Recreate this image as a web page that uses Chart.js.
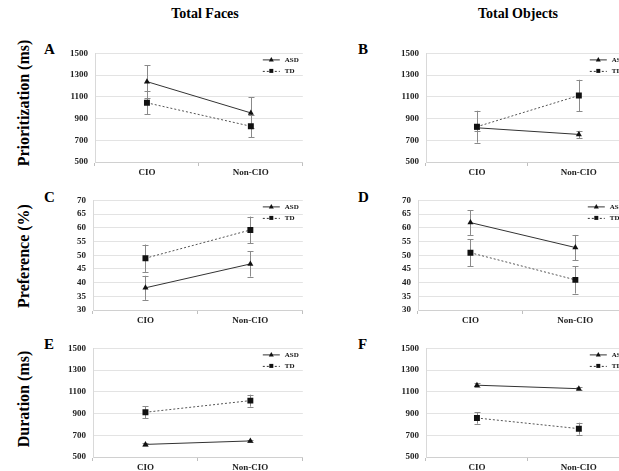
<!DOCTYPE html>
<html>
<head>
<meta charset="utf-8">
<script src="https://cdn.jsdelivr.net/npm/chart.js@4"></script>
<style>
  body { margin:0; background:#fff; }
  #page { position:relative; width:619px; height:471px; overflow:hidden; background:#fff; font-family:"Liberation Serif", "Times New Roman", serif; }
  canvas { position:absolute; }
  .title { position:absolute; top:6px; font-weight:bold; font-size:14px; transform:translateX(-50%); white-space:nowrap; }
  .letter { position:absolute; font-weight:bold; font-size:15px; }
  .ytitle { position:absolute; font-weight:bold; font-size:16px; white-space:nowrap; transform:translate(-50%,-50%) rotate(-90deg); }
</style>
</head>
<body>
<div id="page">
  <div class="title" style="left:205px">Total Faces</div>
  <div class="title" style="left:518px">Total Objects</div>

  <div class="letter" style="left:44px;top:41px">A</div>
  <div class="letter" style="left:358px;top:41px">B</div>
  <div class="letter" style="left:44px;top:189px">C</div>
  <div class="letter" style="left:358px;top:189px">D</div>
  <div class="letter" style="left:44px;top:336px">E</div>
  <div class="letter" style="left:358px;top:336px">F</div>

  <div class="ytitle" style="left:24px;top:103px">Prioritization (ms)</div>
  <div class="ytitle" style="left:24px;top:256px">Preference (%)</div>
  <div class="ytitle" style="left:24px;top:399px">Duration (ms)</div>

  <canvas id="cA" width="242" height="141" style="left:65px;top:41px"></canvas>
  <canvas id="cB" width="238" height="141" style="left:396px;top:41px"></canvas>
  <canvas id="cC" width="244" height="142" style="left:63px;top:188px"></canvas>
  <canvas id="cD" width="244" height="142" style="left:388px;top:188px"></canvas>
  <canvas id="cE" width="244" height="141" style="left:63px;top:336px"></canvas>
  <canvas id="cF" width="238" height="141" style="left:396px;top:336px"></canvas>
</div>

<script>
// ===============================
// DATA
// ===============================

const categories = ["CIO", "Non-CIO"];
const seriesNames = ["ASD", "TD"];

// Prioritization (ms)
const facesPriorAsd = [1240, 952];
const facesPriorAsdErr = [150, 142];
const facesPriorTd = [1045, 829];
const facesPriorTdErr = [105, 100];

const objectsPriorAsd = [815, 754];
const objectsPriorAsdErr = [30, 33];
const objectsPriorTd = [825, 1112];
const objectsPriorTdErr = [147, 145];

// Preference (%)
const facesPrefAsd = [38.1, 46.8];
const facesPrefAsdErr = [4.4, 4.6];
const facesPrefTd = [48.9, 59.2];
const facesPrefTdErr = [5.0, 4.9];

const objectsPrefAsd = [61.9, 52.8];
const objectsPrefAsdErr = [4.5, 4.6];
const objectsPrefTd = [50.9, 41.0];
const objectsPrefTdErr = [5.0, 5.0];

// Duration (ms)
const facesDurAsd = [616, 648];
const facesDurAsdErr = [12, 10];
const facesDurTd = [912, 1019];
const facesDurTdErr = [55, 55];

const objectsDurAsd = [1161, 1129];
const objectsDurAsdErr = [20, 15];
const objectsDurTd = [859, 761];
const objectsDurTdErr = [52, 55];

// axis ranges
const msTicks = [500, 700, 900, 1100, 1300, 1500];
const pctTicks = [30, 35, 40, 45, 50, 55, 60, 65, 70];

const serif = "'Liberation Serif', 'Times New Roman', serif";

// ===============================
// PLUGINS
// ===============================

const errorBars = {
  id: "errorBars",
  beforeDatasetsDraw(chart){
    const ctx = chart.ctx;
    const y = chart.scales.y;
    ctx.save();
    ctx.strokeStyle = "#8a8a8a";
    ctx.lineWidth = 1;
    chart.data.datasets.forEach((ds, i) => {
      const meta = chart.getDatasetMeta(i);
      meta.data.forEach((pt, j) => {
        const e = ds.errors[j];
        const top = y.getPixelForValue(ds.data[j] + e);
        const bot = y.getPixelForValue(ds.data[j] - e);
        const x = Math.round(pt.x) + 0.5;
        ctx.beginPath();
        ctx.moveTo(x, top); ctx.lineTo(x, bot);
        ctx.moveTo(x - 3, Math.round(top) + 0.5); ctx.lineTo(x + 3, Math.round(top) + 0.5);
        ctx.moveTo(x - 3, Math.round(bot) + 0.5); ctx.lineTo(x + 3, Math.round(bot) + 0.5);
        ctx.stroke();
      });
    });
    ctx.restore();
  }
};

const miniLegend = {
  id: "miniLegend",
  afterDraw(chart){
    const ctx = chart.ctx;
    const a = chart.chartArea;
    ctx.save();
    chart.data.datasets.forEach((ds, i) => {
      const yy = a.top + 6 + i * 11.5;
      const x0 = a.right - 40, x1 = a.right - 23;
      ctx.strokeStyle = "#333";
      ctx.lineWidth = 1;
      ctx.setLineDash(ds.borderDash || []);
      ctx.beginPath();
      ctx.moveTo(x0, yy + 0.5); ctx.lineTo(x1, yy + 0.5);
      ctx.stroke();
      ctx.setLineDash([]);
      ctx.fillStyle = "#111";
      const mx = (x0 + x1) / 2;
      if(ds.pointStyle === "triangle"){
        ctx.beginPath();
        ctx.moveTo(mx, yy - 2.5); ctx.lineTo(mx + 2.5, yy + 2); ctx.lineTo(mx - 2.5, yy + 2);
        ctx.closePath(); ctx.fill();
      }else{
        ctx.fillRect(mx - 2, yy - 2, 4, 4);
      }
      ctx.font = "bold 7px " + serif;
      ctx.textBaseline = "middle";
      ctx.fillText(ds.label, a.right - 18, yy + 0.5);
    });
    ctx.restore();
  }
};

// ===============================
// CHARTS
// ===============================

function criarPainel(id, asd, asdErr, td, tdErr, ticks){
  const stepSize = ticks[1] - ticks[0];
  new Chart(document.getElementById(id), {
    type: "line",
    data: {
      labels: categories,
      datasets: [
        {
          label: seriesNames[0],
          data: asd,
          errors: asdErr,
          borderColor: "#333",
          borderWidth: 1,
          pointStyle: "triangle",
          pointRadius: 3.5,
          pointBackgroundColor: "#111",
          pointBorderColor: "#111",
          pointBorderWidth: 0
        },
        {
          label: seriesNames[1],
          data: td,
          errors: tdErr,
          borderColor: "#555",
          borderWidth: 1,
          borderDash: [2, 2],
          pointStyle: "rect",
          pointRadius: 4.2,
          pointBackgroundColor: "#111",
          pointBorderColor: "#111",
          pointBorderWidth: 0
        }
      ]
    },
    options: {
      responsive: false,
      animation: false,
      layout: { padding: { top: 6, right: 4, left: 0, bottom: 0 } },
      plugins: { legend: { display: false }, tooltip: { enabled: false } },
      scales: {
        x: {
          offset: true,
          grid: { offset: true, drawOnChartArea: false, tickLength: 4, color: "#bfbfbf" },
          border: { color: "#d0d0d0" },
          ticks: { font: { family: serif, weight: "bold", size: 9 }, color: "#222", padding: 1 },
          afterFit: s => { s.height = 20; }
        },
        y: {
          min: ticks[0],
          max: ticks[ticks.length - 1],
          afterBuildTicks: s => { s.ticks = ticks.map(v => ({ value: v })); },
          ticks: {
            autoSkip: false,
            callback: v => String(v),
            font: { family: serif, weight: "bold", size: 9 },
            color: "#222",
            padding: 7
          },
          grid: { color: "#e3e3e3", drawTicks: false },
          border: { color: "#d9d9d9" },
          afterFit: s => { s.width = 30; }
        }
      }
    },
    plugins: [errorBars, miniLegend]
  });
}

criarPainel("cA", facesPriorAsd, facesPriorAsdErr, facesPriorTd, facesPriorTdErr, msTicks);
criarPainel("cB", objectsPriorAsd, objectsPriorAsdErr, objectsPriorTd, objectsPriorTdErr, msTicks);
criarPainel("cC", facesPrefAsd, facesPrefAsdErr, facesPrefTd, facesPrefTdErr, pctTicks);
criarPainel("cD", objectsPrefAsd, objectsPrefAsdErr, objectsPrefTd, objectsPrefTdErr, pctTicks);
criarPainel("cE", facesDurAsd, facesDurAsdErr, facesDurTd, facesDurTdErr, msTicks);
criarPainel("cF", objectsDurAsd, objectsDurAsdErr, objectsDurTd, objectsDurTdErr, msTicks);
</script>
</body>
</html>
